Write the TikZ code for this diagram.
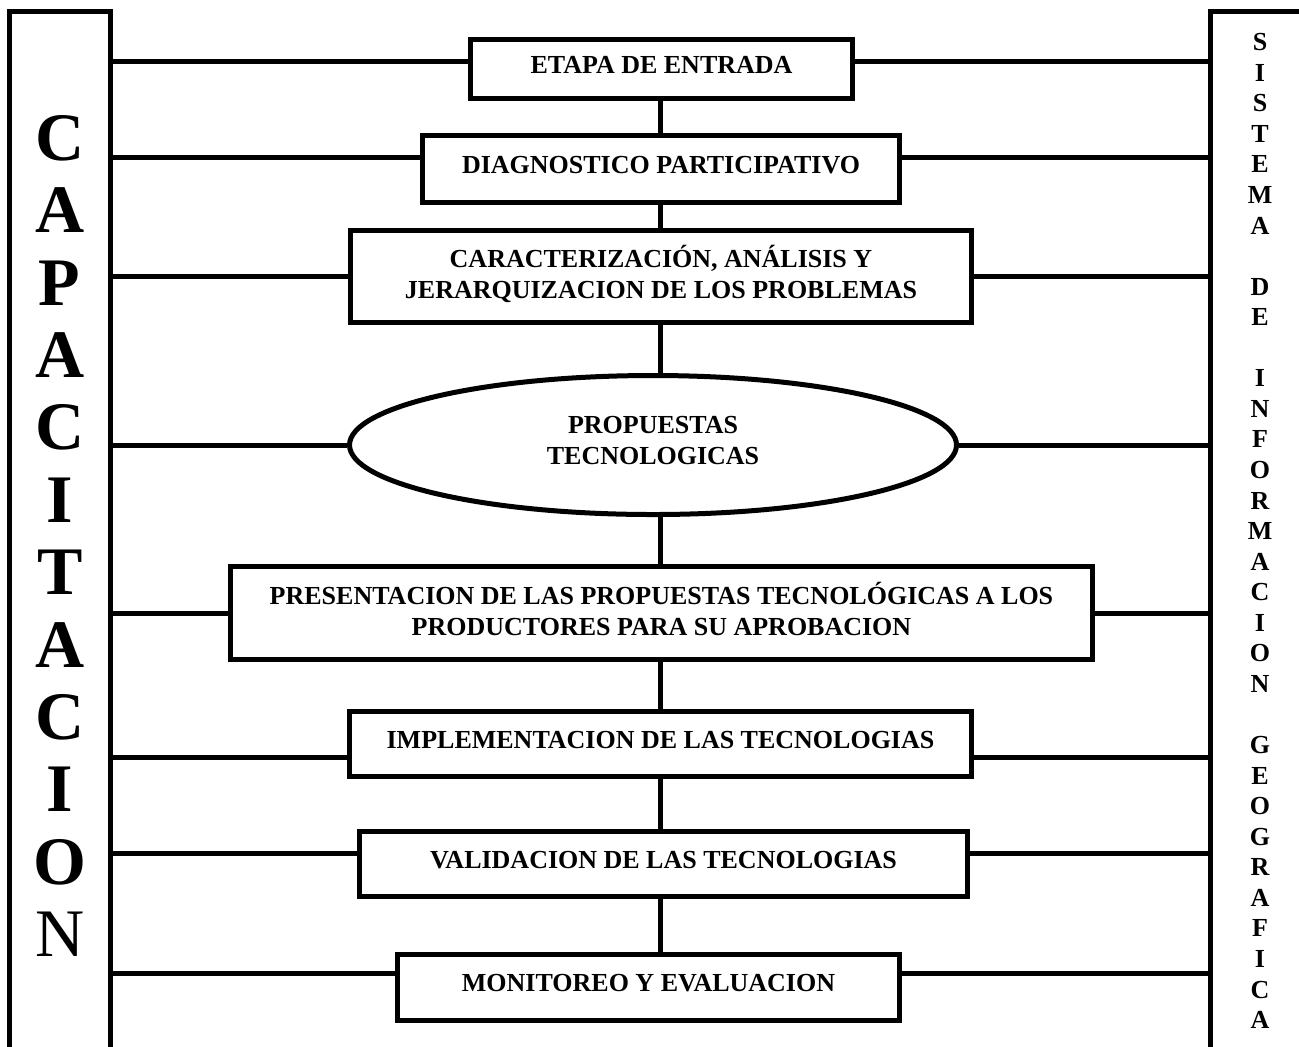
\documentclass[tikz,border=0pt]{standalone}
\usepackage{fontspec}
\setmainfont{Liberation Serif}
\usetikzlibrary{calc}
\usetikzlibrary{shapes.geometric}
\tikzset{every picture/.style={/utils/exec={\bfseries}}}
\tikzset{
  stage/.style={draw, line width=2.5pt, align=center, inner sep=0pt, text depth=4.5pt,
    font=\fontsize{13}{15.5}\selectfont\bfseries},
  column/.style={inner sep=0pt, align=center}
}

\begin{document}
\begin{tikzpicture}[x=0.5pt, y=-0.5pt, line width=2.5pt]
  \useasboundingbox (0,0) rectangle (1299,1046);

    \node[column, minimum width=47.75pt, minimum height=522.5pt,
      font=\fontsize{34}{36.2}\selectfont\bfseries] (cap) at (59.75,536)
      {C\\A\\P\\A\\C\\I\\T\\A\\C\\I\\O\\{\mdseries N}};
    \node[column, minimum width=47.5pt, minimum height=517pt,
      font=\fontsize{13}{15.28}\selectfont\bfseries] (sig) at (1260,531)
      {S\\I\\S\\T\\E\\M\\A\\[15.28pt]D\\E\\[15.28pt]I\\N\\F\\O\\R\\M\\A\\C\\I\\O\\N\\[15.28pt]G\\E\\O\\G\\R\\A\\F\\I\\C\\A};

    \draw (cap.south west) |- (cap.north east) -- (cap.south east);
    \draw (sig.south west) |- (sig.north east) -- (sig.south east);

    \begin{scope}[every node/.style={stage}]
      \node[minimum width=191pt, minimum height=29.5pt] (etapa) at (661.5,69) {ETAPA DE ENTRADA};
      \node[minimum width=238.5pt, minimum height=33.5pt] (diag) at (661,169) {DIAGNOSTICO PARTICIPATIVO};
      \node[minimum width=310.5pt, minimum height=46pt] (caract) at (661,276.5)
        {CARACTERIZACIÓN, ANÁLISIS Y\\JERARQUIZACION DE LOS PROBLEMAS};
      \node[ellipse, minimum width=303.5pt, minimum height=69.5pt] (prop) at (653,445)
        {PROPUESTAS\\TECNOLOGICAS};
      \node[minimum width=431pt, minimum height=46.5pt] (pres) at (661.5,613)
        {PRESENTACION DE LAS PROPUESTAS TECNOLÓGICAS A LOS\\PRODUCTORES PARA SU APROBACION};
      \node[minimum width=311pt, minimum height=32.5pt] (impl) at (660.5,744) {IMPLEMENTACION DE LAS TECNOLOGIAS};
      \node[minimum width=304pt, minimum height=32.5pt] (valid) at (663.5,864) {VALIDACION DE LAS TECNOLOGIAS};
      \node[minimum width=251pt, minimum height=33pt] (monit) at (648.5,987.5) {MONITOREO Y EVALUACION};
    \end{scope}

    \coordinate (spine) at (660,0);
    \foreach \a/\b in {etapa/diag, diag/caract, caract/prop, prop/pres, pres/impl, impl/valid, valid/monit}
      \draw (\a.south -| spine) -- (\b.north -| spine);

    \foreach \n/\d in {etapa/4pt, diag/6pt, caract/0pt, prop/0pt, pres/0pt, impl/-6.5pt, valid/5.5pt, monit/7.25pt}{
      \coordinate (l) at ([yshift=\d]\n.west);
      \coordinate (r) at ([yshift=\d]\n.east);
      \draw (cap.east |- l) -- (l) (r) -- (sig.west |- r);
    }
\end{tikzpicture}
\end{document}
